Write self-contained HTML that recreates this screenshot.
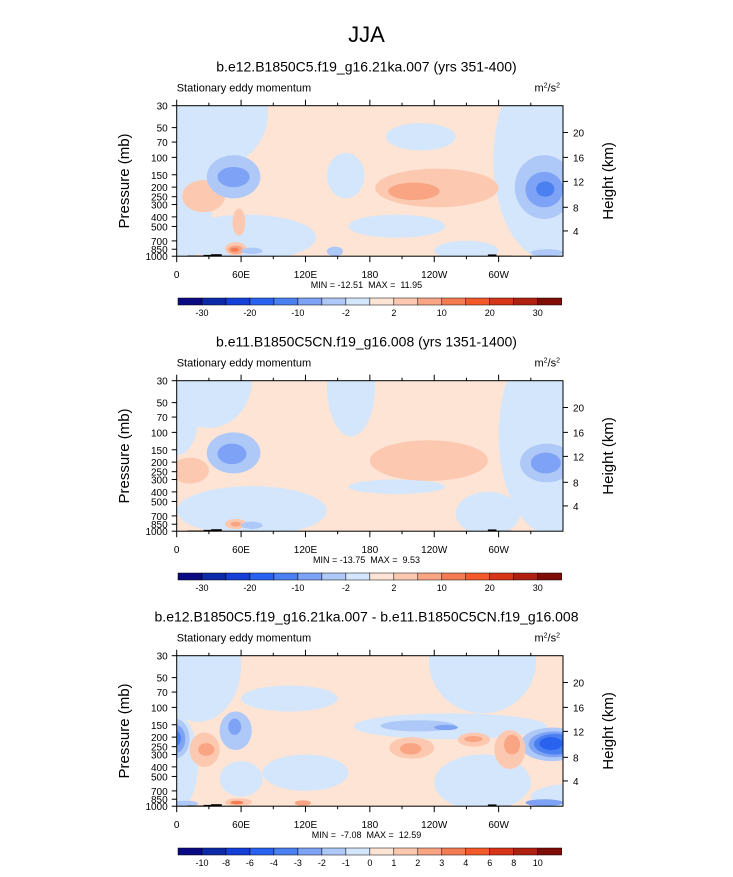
<!DOCTYPE html>
<html><head><meta charset="utf-8"><style>
body{margin:0;background:#fff;}
svg text{font-family:"Liberation Sans",Arial,sans-serif;fill:#000;white-space:pre;}
</style></head><body>
<svg id="chart" width="733" height="872" viewBox="0 0 733 872" xmlns="http://www.w3.org/2000/svg">
<text x="366.5" y="42" font-size="22" text-anchor="middle">JJA</text>
</svg>
<script>
const palette=["#0a0a82","#0c2aa8","#1440d8","#2a62f0","#4a80f0","#7ea2f5","#aec8f8","#d4e6fb","#fde4d4","#fcc9b0","#f9a584","#f57c52","#f25a2a","#d83418","#b02010","#800c08"];
const pressureTicks=[30,50,70,100,150,200,250,300,400,500,700,850,1000];
const heightTicks=[4,8,12,16,20];
const heightTickP=[555,320,175,100,56];
const lonTicks=[0,60,120,180,240,300];
const lonLabels=["0","60E","120E","180","120W","60W"];
const cbLabels12=["","-30","","-20","","-10","","-2","","2","","10","","20","","30",""];
const cbLabels3=["","-10","-8","-6","-4","-3","-2","-1","0","1","2","3","4","6","8","10",""];
const titles=["b.e12.B1850C5.f19_g16.21ka.007 (yrs 351-400)","b.e11.B1850C5CN.f19_g16.008 (yrs 1351-1400)","b.e12.B1850C5.f19_g16.21ka.007 - b.e11.B1850C5CN.f19_g16.008"];
const minmax=["MIN = -12.51  MAX =  11.95","MIN = -13.75  MAX =  9.53","MIN =  -7.08  MAX =  12.59"];
// blobs: [lon0, lon1, p0, p1, level]
const panel1Blobs=[[-20,85,10,130,7],[195,260,45,85,7],[140,175,90,260,7],[295,400,10,1100,7],[-20,35,30,1100,7],[0,130,380,1100,7],[160,250,380,650,7],[240,300,700,1100,7],
[5,45,170,360,9],[185,300,130,320,9],[52,64,330,620,9],[45,65,720,980,9],[197,245,180,270,10],[48,62,780,950,10],[50,58,820,900,11],
[28,78,95,260,6],[38,68,125,200,5],[315,370,95,420,6],[325,360,140,320,5],[335,352,175,250,4],[60,80,820,950,6],[140,155,800,1000,6],[330,360,850,1000,6]];
const panel2Blobs=[[-20,20,30,170,7],[-10,70,10,90,7],[140,185,10,110,7],[300,400,10,1100,7],[0,140,350,1100,7],[160,250,300,420,7],[260,320,400,1100,7],
[-5,30,180,330,9],[180,290,120,310,9],[45,65,750,950,9],[50,60,800,900,10],
[28,78,100,260,6],[38,65,130,210,5],[320,370,130,320,6],[330,358,160,260,5],[60,80,800,950,6]];
const panel3Blobs=[[-20,60,10,140,7],[60,150,60,110,7],[235,335,10,115,7],[165,345,115,210,7],[-20,20,120,1100,7],[80,160,300,700,7],[40,80,350,800,7],[240,330,300,1100,7],[330,400,600,1100,7],
[190,260,135,175,6],[240,262,150,170,5],[40,70,110,270,6],[48,60,130,190,5],[-15,12,130,330,6],[-10,8,150,290,5],[-8,4,170,250,4],[320,380,160,350,6],[328,375,175,320,5],[333,372,185,300,4],[338,360,200,270,3],
[12,40,180,400,9],[20,35,230,310,10],[198,240,200,330,9],[208,228,230,300,10],[262,292,180,250,9],[268,285,195,225,10],[296,325,170,420,9],[305,320,190,300,10],[45,70,830,1000,9],[50,62,880,960,11],[110,125,870,990,10],
[325,360,850,1000,5],[-5,20,880,1000,6]];
const topo=[[10,25,985],[25,32,970],[32,42,955],[290,298,960],[298,312,990]];
const allBlobs=[panel1Blobs,panel2Blobs,panel3Blobs];
const NS="http://www.w3.org/2000/svg";
const svg=document.getElementById('chart');
function mk(t,a,p){const e=document.createElementNS(NS,t);for(const k in a)e.setAttribute(k,a[k]);(p||svg).appendChild(e);return e;}
const X0=176.7,X1=563,H=150.5;
const xs=l=>X0+l/360*(X1-X0);
for(let i=0;i<3;i++){
 const T=105.7+275*i;
 const ys=p=>T+H*Math.log(p/30)/Math.log(1000/30);
 const g=mk('g',{});
 
 
 const t1=mk('text',{x:366.5,y:T-34,'font-size':14,'text-anchor':'middle'},g);t1.textContent=titles[i];
 
 const t2=mk('text',{x:X0,y:T-14,'font-size':11},g);t2.textContent='Stationary eddy momentum';
 
 const t3=mk('text',{x:X1-3,y:T-14,'font-size':11,'text-anchor':'end'},g);t3.innerHTML='m<tspan dy="-4" font-size="7">2</tspan><tspan dy="4">/s</tspan><tspan dy="-4" font-size="7">2</tspan>';
 
 const cp=mk('clipPath',{id:'c'+i},g);mk('rect',{x:X0,y:T,width:X1-X0,height:H},cp);
 const f=mk('g',{'clip-path':'url(#c'+i+')'},g);
 
 mk('rect',{x:X0,y:T,width:X1-X0,height:H,fill:palette[8]},f);
 allBlobs[i].forEach(b=>{
  const x0=xs(b[0]),x1=xs(b[1]),y0=ys(b[2]),y1=ys(b[3]);
  const e=mk('ellipse',{cx:(x0+x1)/2,cy:(y0+y1)/2,rx:(x1-x0)/2,ry:(y1-y0)/2,fill:palette[b[4]]},f);
  
 });
 topo.forEach(b=>{const r=mk('rect',{x:xs(b[0]),y:ys(b[2]),width:xs(b[1])-xs(b[0]),height:T+H-ys(b[2]),fill:'#000'},f);
  });
 mk('rect',{x:X0,y:T,width:X1-X0,height:H,fill:'none',stroke:'#000','stroke-width':1},g);
 pressureTicks.forEach(p=>{const y=ys(p);mk('line',{x1:X0-5,x2:X0,y1:y,y2:y,stroke:'#000'},g);
  const t=mk('text',{x:X0-9,y:y+4,'font-size':10,'text-anchor':'end'},g);t.textContent=p;
  });
 heightTicks.forEach((h,k)=>{const y=ys(heightTickP[k]);mk('line',{x1:X1,x2:X1+5,y1:y,y2:y,stroke:'#000'},g);
  const t=mk('text',{x:X1+10,y:y+4,'font-size':10},g);t.textContent=h;
  });
 for(let l=0;l<=330;l+=30){const x=xs(l),len=l%60?3:6;
  mk('line',{x1:x,x2:x,y1:T+H,y2:T+H+len,stroke:'#000'},g);mk('line',{x1:x,x2:x,y1:T,y2:T-len,stroke:'#000'},g);}
 lonTicks.forEach((l,k)=>{const t=mk('text',{x:xs(l),y:T+H+22,'font-size':10,'text-anchor':'middle'},g);t.textContent=lonLabels[k];
  });
 const yl=mk('text',{x:0,y:0,'font-size':15,'text-anchor':'middle',transform:`translate(129,${T+H/2}) rotate(-90)`},g);yl.textContent='Pressure (mb)';
 
 const yr=mk('text',{x:0,y:0,'font-size':15,'text-anchor':'middle',transform:`translate(613,${T+H/2}) rotate(-90)`},g);yr.textContent='Height (km)';
 
 const mm=mk('text',{x:366.5,y:T+H+32,'font-size':9,'text-anchor':'middle'},g);mm.textContent=minmax[i];
 
 const cy=T+192.3, cx0=178, cw=(561.7-178)/16;
 const labs=i<2?cbLabels12:cbLabels3;
 for(let k=0;k<16;k++){const r=mk('rect',{x:cx0+k*cw,y:cy,width:cw,height:7,fill:palette[k],stroke:'#000','stroke-width':0.5},g);
  }
 for(let k=1;k<16;k++){if(!labs[k])continue;const t=mk('text',{x:cx0+k*cw,y:cy+18,'font-size':9,'text-anchor':'middle'},g);t.textContent=labs[k];
  }
}
</script>
</body></html>
